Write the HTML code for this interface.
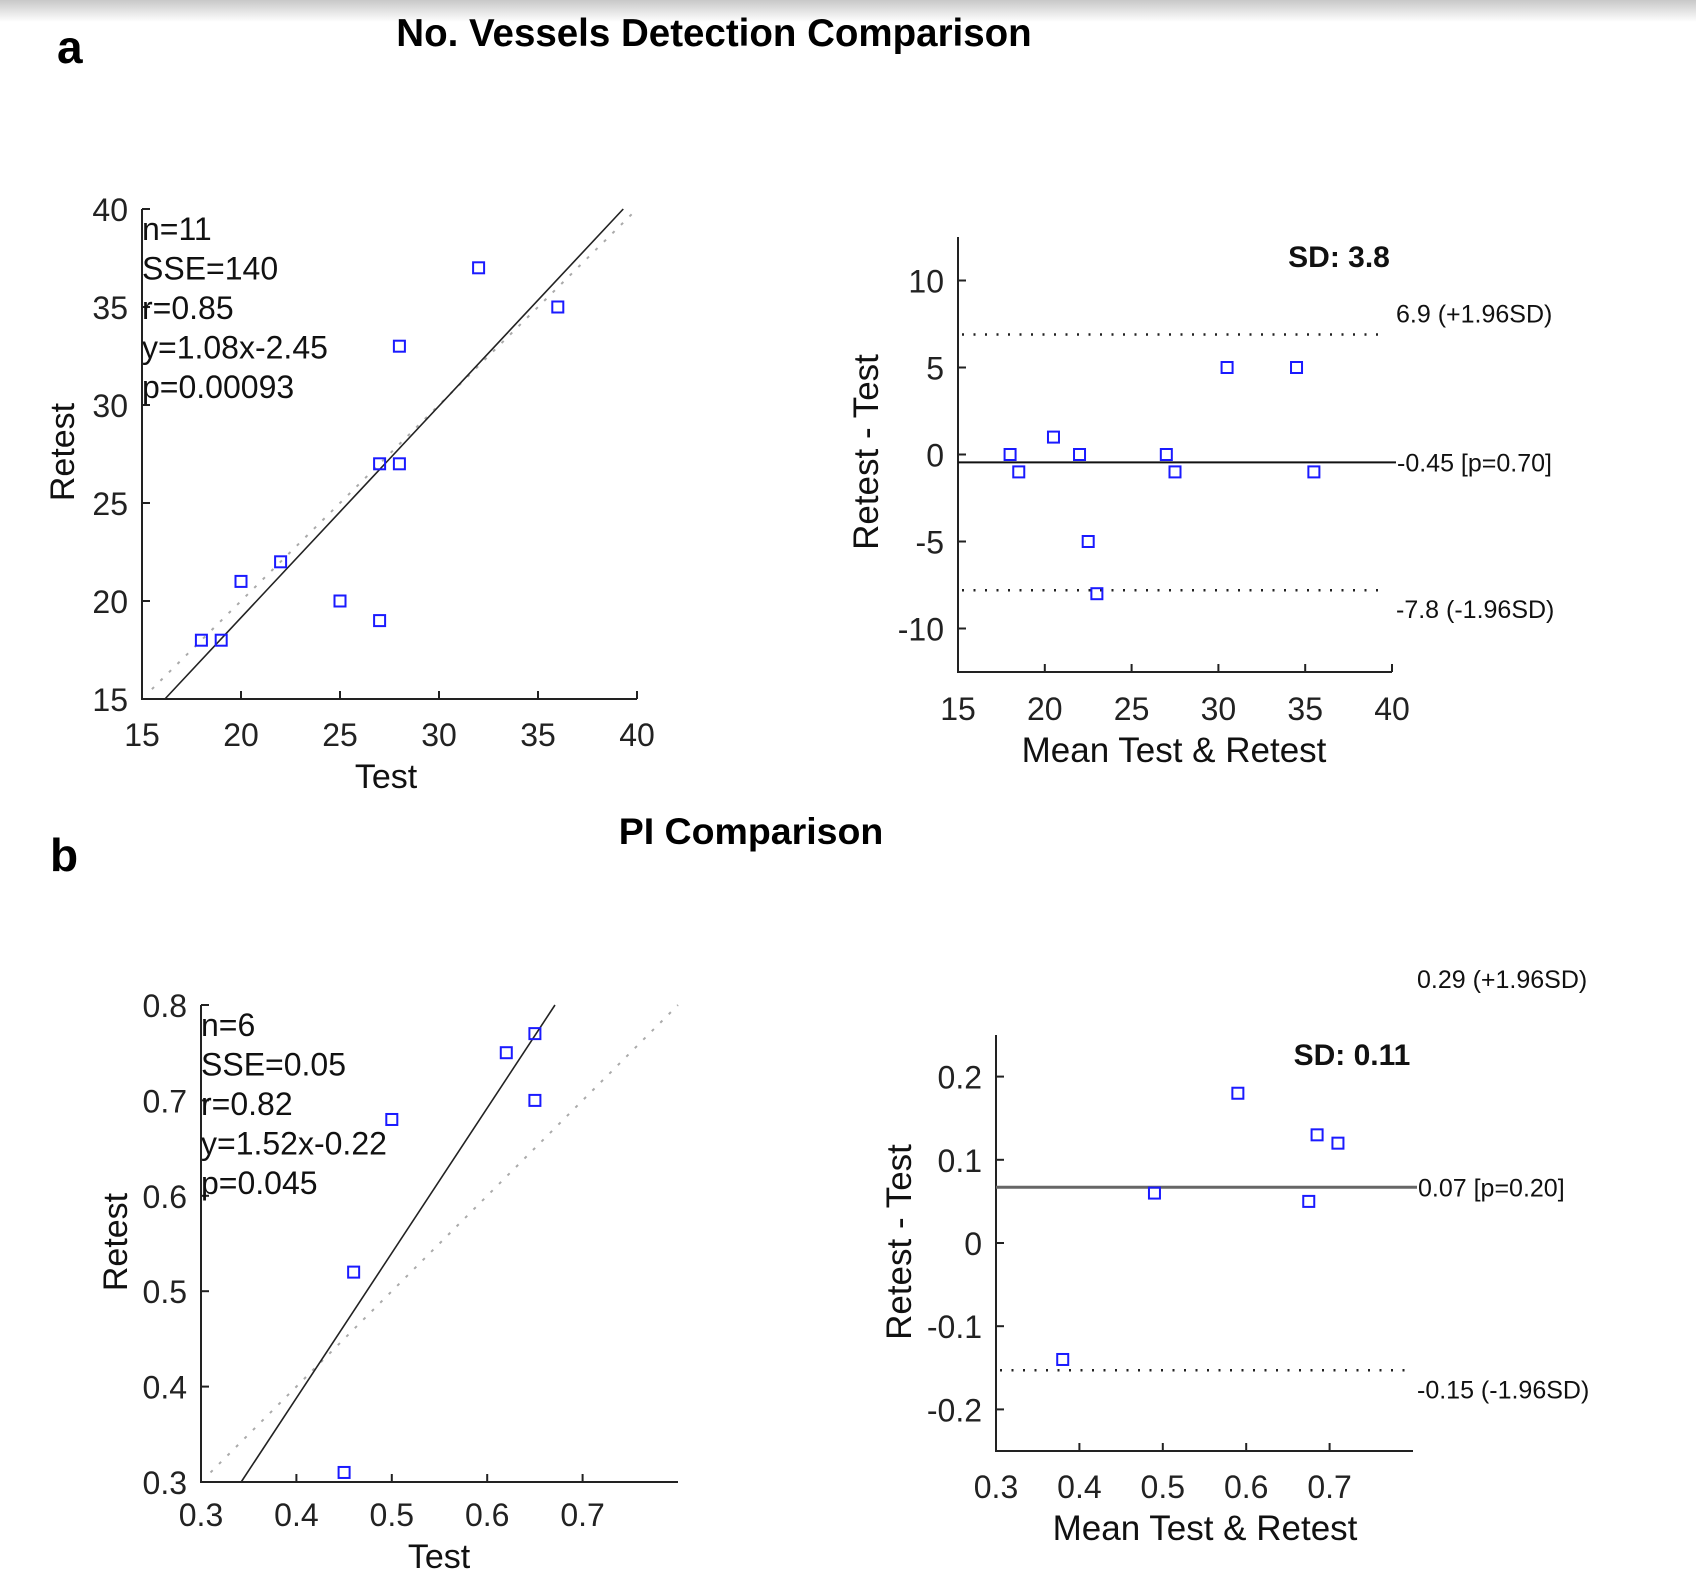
<!DOCTYPE html>
<html><head><meta charset="utf-8"><style>
html,body{margin:0;padding:0;background:#fff}
svg{display:block;font-family:"Liberation Sans",Arial,sans-serif}
</style></head><body>
<svg id="fig" width="1696" height="1570" viewBox="0 0 1696 1570" xmlns="http://www.w3.org/2000/svg">
<defs><linearGradient id="tg" x1="0" y1="0" x2="0" y2="1"><stop offset="0" stop-color="#c8c8c8"/><stop offset="1" stop-color="#fff"/></linearGradient></defs>
<rect x="0" y="0" width="1696" height="22" fill="url(#tg)"/>
<text x="57" y="63" font-size="46" font-weight="bold">a</text>
<text x="50" y="871" font-size="46" font-weight="bold">b</text>
<text x="714" y="46" font-size="38.5" font-weight="bold" text-anchor="middle">No. Vessels Detection Comparison</text>
<text x="751" y="844" font-size="37.5" font-weight="bold" text-anchor="middle">PI Comparison</text>
</svg>
<script>
// Panel a scatter data
const aTest=[18,19,20,22,25,27,27,28,28,32,36];
const aRetest=[18,18,21,22,20,19,27,27,33,37,35];
const aStats=["n=11","SSE=140","r=0.85","y=1.08x-2.45","p=0.00093"];
const aSlope=1.08, aIntercept=-2.45;
const aTicks=[15,20,25,30,35,40];
// Panel a Bland-Altman
const aMean=[18,18.5,20.5,22,22.5,23,27,27.5,30.5,34.5,35.5];
const aDiff=[0,-1,1,0,-5,-8,0,-1,5,5,-1];
const aBias=-0.45, aUpper=6.9, aLower=-7.8;
const aBAxTicks=[15,20,25,30,35,40];
const aBAyTicks=[-10,-5,0,5,10];
// Panel b scatter data
const bTest=[0.45,0.46,0.50,0.62,0.65,0.65];
const bRetest=[0.31,0.52,0.68,0.75,0.77,0.70];
const bStats=["n=6","SSE=0.05","r=0.82","y=1.52x-0.22","p=0.045"];
const bSlope=1.52, bIntercept=-0.22;
const bXTicks=[0.3,0.4,0.5,0.6,0.7];
const bYTicks=[0.3,0.4,0.5,0.6,0.7,0.8];
// Panel b Bland-Altman
const bMean=[0.38,0.49,0.59,0.675,0.685,0.71];
const bDiff=[-0.14,0.06,0.18,0.05,0.13,0.12];
const bBias=0.067, bUpper=0.29, bLower=-0.153;
const bBAxTicks=[0.3,0.4,0.5,0.6,0.7];
const bBAyTicks=[-0.2,-0.1,0,0.1,0.2];

const svg=document.getElementById('fig');
const NS='http://www.w3.org/2000/svg';
function mk(tag,at,txt){const e=document.createElementNS(NS,tag);for(const k in at)e.setAttribute(k,at[k]);if(txt!==undefined)e.textContent=txt;svg.appendChild(e);return e;}
function lin(d0,d1,r0,r1){return v=>r0+(v-d0)/(d1-d0)*(r1-r0);}

function axes(name,X,Y,x0,x1,y0,y1,xt,yt,fmt,tickY,tickFs){
  let e=mk('path',{d:`M${X(x0)},${Y(y1)}V${Y(y0)}H${X(x1)}`,fill:'none',stroke:'#222','stroke-width':2});
  
  
  xt.forEach(v=>{
    let t=mk('line',{x1:X(v),x2:X(v),y1:Y(y0),y2:Y(y0)-8,stroke:'#222','stroke-width':2});
    
    
    let l=mk('text',{x:X(v),y:tickY,'font-size':tickFs,'text-anchor':'middle',fill:'#222'},fmt(v));
    
    
  });
  yt.forEach(v=>{
    let t=mk('line',{x1:X(x0),x2:X(x0)+8,y1:Y(v),y2:Y(v),stroke:'#222','stroke-width':2});
    
    
    let l=mk('text',{x:X(x0)-14,y:Y(v)+12,'font-size':tickFs,'text-anchor':'end',fill:'#222'},fmt(v));
    
    
  });
}
function points(name,X,Y,xs,ys){
  xs.forEach((v,i)=>{
    let r=mk('rect',{x:X(v)-5.5,y:Y(ys[i])-5.5,width:11,height:11,fill:'none',stroke:'#1a1aff','stroke-width':2});
    
    
  });
}
function label(name,x,y,fs,txt,anchor,rot,bold){
  let at={x:x,y:y,'font-size':fs,'text-anchor':anchor||'start',fill:'#111'};
  if(rot)at.transform=`rotate(-90 ${x} ${y})`;
  if(bold)at['font-weight']='bold';
  let t=mk('text',at,txt);
  
  
}
function scatter(p,X,Y,x0,x1,y0,y1,xs,ys,stats,slope,ic,xt,yt,fmt,tickY,statY){
  let id=mk('line',{x1:X(x0+(x1-x0)*0.02),y1:Y(x0+(x1-x0)*0.02),x2:X(x1),y2:Y(x1),stroke:'#aaa','stroke-width':2,'stroke-dasharray':'3 9'});
  
  
  const xa=(y0-ic)/slope, xb=Math.min(x1,(y1-ic)/slope);
  let f=mk('line',{x1:X(xa),y1:Y(y0),x2:X(xb),y2:Y(slope*xb+ic),stroke:'#222','stroke-width':1.6});
  
  
  axes(p,X,Y,x0,x1,y0,y1,xt,yt,fmt,tickY,32);
  points(p,X,Y,xs,ys);
  stats.forEach((s,i)=>label(p+'-stat-'+i,X(x0),statY+i*39.5,32,s));
}
// ---- Panel a scatter
{const X=lin(15,40,142,637),Y=lin(15,40,699,209);
 scatter('scatter-a',X,Y,15,40,15,40,aTest,aRetest,aStats,aSlope,aIntercept,aTicks,aTicks,v=>String(v),746,240);
 label('scatter-a-x-title',386,788,34,'Test','middle');
 label('scatter-a-y-title',74,452,34,'Retest','middle',true);}
// ---- Panel b scatter
{const X=lin(0.3,0.8,201,678),Y=lin(0.3,0.8,1482,1005);
 scatter('scatter-b',X,Y,0.3,0.8,0.3,0.8,bTest,bRetest,bStats,bSlope,bIntercept,bXTicks,bYTicks,v=>v.toFixed(1),1526,1036);
 label('scatter-b-x-title',439,1568,34,'Test','middle');
 label('scatter-b-y-title',127,1242,34,'Retest','middle',true);}
function ba(p,X,Y,x0,x1,y0,y1,ms,ds,bias,up,lo,xt,yt,fmt,tickY,labs,sdTxt,sdX,sdY,biasGrey,lineEnd){
  axes(p,X,Y,x0,x1,y0,y1,xt,yt,fmt,tickY,32);
  let b=mk('line',{x1:X(x0),x2:X(x1)+4,y1:Y(bias),y2:Y(bias),stroke:biasGrey?'#666':'#111','stroke-width':biasGrey?3:2});
  
  
  label(p+'-mean-label',X(x1)+5,Y(bias)+9,25,labs[1]);
  [[up,0],[lo,2]].forEach(([v,i])=>{
    if(v<=y1&&v>=y0){
      let d=mk('line',{x1:X(x0)+4,x2:lineEnd,y1:Y(v),y2:Y(v),stroke:'#222','stroke-width':2.5,'stroke-dasharray':'2 9.5'});
      
      
    }
  });
  const uy = up<=y1 ? Y(up)-12 : Y(y1)-47;
  label(p+'-upper-label',X(x1)+4,uy,25,labs[0]);
  label(p+'-lower-label',X(x1)+4,Y(lo)+28,25,labs[2]);
  points(p,X,Y,ms,ds);
  label(p+'-sd-label',sdX,sdY,30,sdTxt,'middle',false,true);
}
// ---- Panel a BA
{const X=lin(15,40,958,1392),Y=lin(-12.5,12.5,672,237);
 ba('bland-altman-a',X,Y,15,40,-12.5,12.5,aMean,aDiff,aBias,aUpper,aLower,aBAxTicks,aBAyTicks,v=>String(v),720,
   [aUpper.toFixed(1)+' (+1.96SD)','-0.45 [p=0.70]',aLower.toFixed(1)+' (-1.96SD)'],'SD: 3.8',1339,267,false,1384);
 label('bland-altman-a-x-title',1174,762,35,'Mean Test & Retest','middle');
 label('bland-altman-a-y-title',878,452,35,'Retest - Test','middle',true);}
// ---- Panel b BA
{const X=lin(0.3,0.8,996,1413),Y=lin(-0.25,0.25,1451,1035);
 ba('bland-altman-b',X,Y,0.3,0.8,-0.25,0.25,bMean,bDiff,bBias,bUpper,bLower,bBAxTicks,bBAyTicks,v=>(v===0?'0':(Math.round(v*10)/10).toString()),1498,
   ['0.29 (+1.96SD)','0.07 [p=0.20]','-0.15 (-1.96SD)'],'SD: 0.11',1352,1065,true,1413);
 label('bland-altman-b-x-title',1205,1540,35,'Mean Test & Retest','middle');
 label('bland-altman-b-y-title',911,1242,35,'Retest - Test','middle',true);}
</script>
</body></html>
